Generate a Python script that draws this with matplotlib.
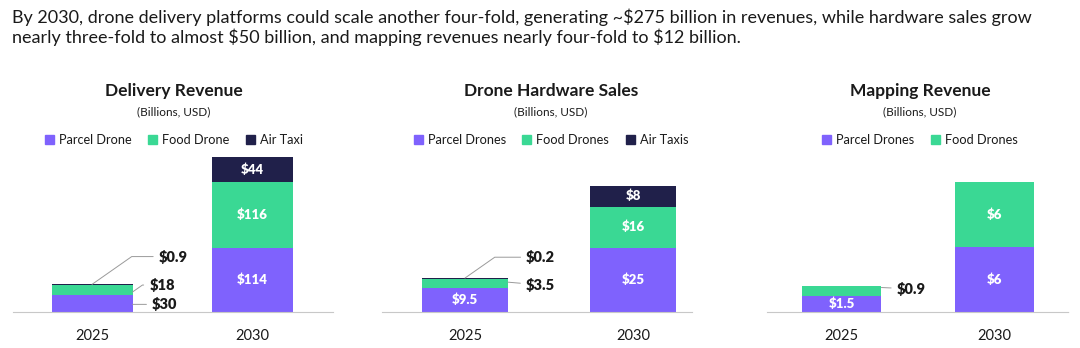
import matplotlib.pyplot as plt
from matplotlib.patches import Patch

plt.rcParams['font.family'] = ['Lato', 'DejaVu Sans']
plt.rcParams['text.parse_math'] = False

# data
years = ["2025", "2030"]

delivery_parcel = [30, 114]
delivery_food = [18, 116]
delivery_air = [0.9, 44]

hardware_parcel = [9.5, 25]
hardware_food = [3.5, 16]
hardware_air = [0.2, 8]

mapping_parcel = [1.5, 6]
mapping_food = [0.9, 6]

PURPLE = "#7f62fd"
GREEN = "#3ad894"
NAVY = "#20204a"
TXT = "#1a1a1a"

W, H = 1080, 348
fig = plt.figure(figsize=(W / 100, H / 100), dpi=100)

fig.text(12 / W, 1 - 17 / H,
         "By 2030, drone delivery platforms could scale another four-fold, generating ~$275 billion in revenues, while hardware sales grow",
         fontsize=13, color=TXT, va="center", ha="left")
fig.text(12 / W, 1 - 37 / H,
         "nearly three-fold to almost $50 billion, and mapping revenues nearly four-fold to $12 billion.",
         fontsize=13, color=TXT, va="center", ha="left")


def fmt(v):
    return f"${v:g}"


def panel(x0, x1, xlim, ytop, width, title, cx, series, names):
    ax = fig.add_axes([x0 / W, 36 / H, (x1 - x0) / W, 160 / H])
    bottom = [0, 0]
    for vals, color in series:
        ax.bar([0, 1], vals, width=width, bottom=bottom, color=color, linewidth=0)
        bottom = [b + v for b, v in zip(bottom, vals)]
    ax.set_xlim(*xlim)
    ax.set_ylim(0, ytop)
    ax.set_xticks([0, 1])
    ax.set_xticklabels(years, fontsize=10.5, color=TXT)
    ax.tick_params(axis="x", length=0, pad=12)
    ax.set_yticks([])
    for s in ["top", "left", "right"]:
        ax.spines[s].set_visible(False)
    ax.spines["bottom"].set_linestyle((0, (1, 1)))
    ax.spines["bottom"].set_color("#c8c8c8")
    ax.spines["bottom"].set_linewidth(0.8)

    fig.text(cx / W, 1 - 91 / H, title, fontsize=12.5, fontweight="bold",
             ha="center", va="center", color=TXT)
    fig.text(cx / W, 1 - 112 / H, "(Billions, USD)", fontsize=8.5,
             ha="center", va="center", color=TXT)
    handles = [Patch(color=c) for _, c in series]
    fig.legend(handles, names, loc="center", bbox_to_anchor=(cx / W, 1 - 140 / H),
               ncol=len(names), frameon=False, fontsize=9.2, handlelength=0.7,
               handleheight=0.7, handletextpad=0.4, columnspacing=1.3,
               labelcolor=TXT)
    return ax


def label_segments(ax, series, i, which):
    bottom = 0
    for k, (vals, _) in enumerate(series):
        v = vals[i]
        if k in which:
            ax.text(i, bottom + v / 2, fmt(v), ha="center", va="center",
                    color="white", fontsize=9.5, fontweight="heavy")
        bottom += v


def callout(ax, x, y, dx, dy, text, bend=True):
    # leader line from bar point to a label on the right
    ax.annotate(text, xy=(x, y), xytext=(dx, dy), textcoords="offset points",
                ha="left", va="center", fontsize=10.5, fontweight="heavy", color=TXT,
                arrowprops=dict(arrowstyle="-", color="#9a9a9a", lw=0.7,
                                shrinkA=2, shrinkB=0,
                                connectionstyle="angle,angleA=0,angleB=35,rad=0" if bend else "arc3"))


# Delivery
w = 0.506
dser = [(delivery_parcel, PURPLE), (delivery_food, GREEN), (delivery_air, NAVY)]
ax1 = panel(13, 333, (-0.494, 1.506), 283, w, "Delivery Revenue", 174, dser,
            ["Parcel Drone", "Food Drone", "Air Taxi"])
label_segments(ax1, dser, 1, [0, 1, 2])
tot = delivery_parcel[0] + delivery_food[0] + delivery_air[0]
callout(ax1, 0.0, tot, 48, 20, fmt(delivery_air[0]))
callout(ax1, w / 2, delivery_parcel[0] + delivery_food[0] * 0.3, 12, 5, fmt(delivery_food[0]))
callout(ax1, w / 2, delivery_parcel[0] * 0.45, 14, 0, fmt(delivery_parcel[0]), bend=False)

# Hardware
w = 0.51
hser = [(hardware_parcel, PURPLE), (hardware_food, GREEN), (hardware_air, NAVY)]
ax2 = panel(382, 693, (-0.494, 1.357), 62.2, w, "Drone Hardware Sales", 551, hser,
            ["Parcel Drones", "Food Drones", "Air Taxis"])
label_segments(ax2, hser, 1, [0, 1, 2])
label_segments(ax2, hser, 0, [0])
tot = hardware_parcel[0] + hardware_food[0] + hardware_air[0]
callout(ax2, 0.0, tot, 44, 15, fmt(hardware_air[0]))
callout(ax2, w / 2, hardware_parcel[0] + hardware_food[0] * 0.6, 13, -2, fmt(hardware_food[0]), bend=False)

# Mapping
w = 0.52
mser = [(mapping_parcel, PURPLE), (mapping_food, GREEN)]
ax3 = panel(767, 1069, (-0.49, 1.49), 14.8, w, "Mapping Revenue", 920, mser,
            ["Parcel Drones", "Food Drones"])
label_segments(ax3, mser, 1, [0, 1])
label_segments(ax3, mser, 0, [0])
callout(ax3, w / 2, mapping_parcel[0] + mapping_food[0] * 0.85, 11, -1, fmt(mapping_food[0]), bend=False)

fig.savefig("out.png", dpi=100)
